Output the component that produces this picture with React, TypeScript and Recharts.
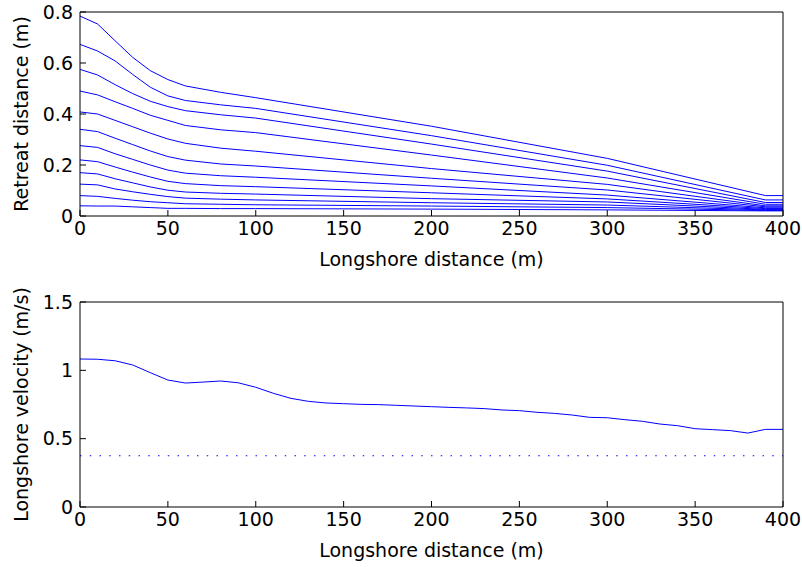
import { LineChart, Line, XAxis, YAxis, ReferenceLine } from 'recharts';

// longshore positions (m) where the retreat profiles were read
const retreatX = [0, 10, 20, 30, 40, 50, 60, 80, 100, 200, 300, 390, 400];

// retreat distance (m), one profile per time step, largest first
const retreat1 = [0.784, 0.753, 0.687, 0.622, 0.57, 0.535, 0.51, 0.485, 0.464, 0.352, 0.226, 0.08, 0.08];
const retreat2 = [0.673, 0.647, 0.608, 0.555, 0.505, 0.471, 0.453, 0.436, 0.422, 0.315, 0.199, 0.063, 0.063];
const retreat3 = [0.575, 0.553, 0.515, 0.48, 0.45, 0.429, 0.413, 0.397, 0.384, 0.282, 0.176, 0.053, 0.053];
const retreat4 = [0.49, 0.475, 0.448, 0.422, 0.395, 0.375, 0.355, 0.338, 0.327, 0.239, 0.149, 0.046, 0.046];
const retreat5 = [0.408, 0.4, 0.375, 0.35, 0.325, 0.302, 0.285, 0.266, 0.254, 0.186, 0.124, 0.04, 0.04];
const retreat6 = [0.34, 0.331, 0.305, 0.28, 0.255, 0.233, 0.219, 0.204, 0.196, 0.148, 0.102, 0.036, 0.036];
const retreat7 = [0.276, 0.269, 0.244, 0.222, 0.2, 0.18, 0.168, 0.158, 0.152, 0.118, 0.082, 0.032, 0.032];
const retreat8 = [0.22, 0.213, 0.192, 0.172, 0.153, 0.136, 0.127, 0.119, 0.115, 0.091, 0.067, 0.029, 0.029];
const retreat9 = [0.17, 0.165, 0.146, 0.13, 0.114, 0.101, 0.094, 0.089, 0.086, 0.068, 0.055, 0.026, 0.026];
const retreat10 = [0.125, 0.122, 0.106, 0.095, 0.085, 0.076, 0.07, 0.066, 0.063, 0.052, 0.043, 0.024, 0.024];
const retreat11 = [0.08, 0.077, 0.069, 0.062, 0.056, 0.052, 0.048, 0.046, 0.044, 0.039, 0.033, 0.022, 0.022];
const retreat12 = [0.04, 0.039, 0.039, 0.036, 0.033, 0.03, 0.03, 0.029, 0.029, 0.027, 0.024, 0.02, 0.02];

const retreatProfiles = [
  retreat1, retreat2, retreat3, retreat4, retreat5, retreat6,
  retreat7, retreat8, retreat9, retreat10, retreat11, retreat12,
];

// longshore velocity (m/s) every 10 m
const velocityX = [
  0, 10, 20, 30, 40, 50, 60, 70, 80, 90, 100, 110, 120, 130, 140, 150, 160, 170, 180, 190, 200,
  210, 220, 230, 240, 250, 260, 270, 280, 290, 300, 310, 320, 330, 340, 350, 360, 370, 380, 390, 400,
];
const velocity = [
  1.083, 1.081, 1.07, 1.039, 0.983, 0.929, 0.907, 0.914, 0.922, 0.909, 0.876, 0.832, 0.795, 0.773,
  0.761, 0.756, 0.751, 0.749, 0.744, 0.739, 0.734, 0.729, 0.725, 0.72, 0.71, 0.705, 0.693, 0.685,
  0.673, 0.656, 0.653, 0.639, 0.627, 0.607, 0.595, 0.573, 0.566, 0.559, 0.541, 0.568, 0.568,
];
const velocityThreshold = 0.375;

const distanceTicks = [0, 50, 100, 150, 200, 250, 300, 350, 400];
const retreatTicks = [0, 0.2, 0.4, 0.6, 0.8];
const velocityTicks = [0, 0.5, 1, 1.5];

const retreatData = retreatX.map((x, i) => {
  const row: Record<string, number> = { x };
  retreatProfiles.forEach((p, k) => {
    row['r' + k] = p[i];
  });
  return row;
});

const velocityData = velocityX.map((x, i) => ({ x, v: velocity[i] }));

const FONT = 'DejaVu Sans';
const BLUE = '#0000ff';
const tickStyle = { fill: '#000', fontSize: 19, fontFamily: FONT };
const labelStyle = { fill: '#000', fontSize: 19, fontFamily: FONT, textAnchor: 'middle' as const };

type PanelProps = {
  data: Record<string, number>[];
  keys: string[];
  height: number;
  top: number;
  bottom: number;
  yDomain: [number, number];
  yTicks: number[];
  yLabel: string;
  threshold?: number;
};

function Panel({ data, keys, height, top, bottom, yDomain, yTicks, yLabel, threshold }: PanelProps) {
  return (
    <LineChart width={802} height={height} data={data} margin={{ top, right: 18, bottom, left: 0 }}>
      <XAxis
        dataKey="x"
        type="number"
        domain={[0, 400]}
        ticks={distanceTicks}
        tickSize={-6}
        tickMargin={12}
        stroke="#000"
        tick={tickStyle}
        height={54}
        label={{ value: 'Longshore distance (m)', position: 'insideBottom', offset: 4, style: labelStyle }}
      />
      <XAxis
        xAxisId="top"
        orientation="top"
        dataKey="x"
        type="number"
        domain={[0, 400]}
        ticks={distanceTicks}
        tickSize={-6}
        tick={false}
        height={1}
        stroke="#000"
      />
      <YAxis
        type="number"
        domain={yDomain}
        ticks={yTicks}
        tickSize={-6}
        tickMargin={13}
        width={80}
        stroke="#000"
        tick={tickStyle}
        label={{ value: yLabel, angle: -90, position: 'insideLeft', offset: 21, style: labelStyle }}
      />
      <YAxis
        yAxisId="right"
        orientation="right"
        type="number"
        domain={yDomain}
        ticks={yTicks}
        tickSize={-6}
        tick={false}
        width={1}
        stroke="#000"
      />
      {threshold !== undefined && (
        <ReferenceLine y={threshold} stroke={BLUE} strokeWidth={1} strokeDasharray="1.5 8.25" />
      )}
      {keys.map((k) => (
        <Line
          key={k}
          dataKey={k}
          type="linear"
          stroke={BLUE}
          strokeWidth={1}
          dot={false}
          isAnimationActive={false}
        />
      ))}
    </LineChart>
  );
}

export default function App() {
  return (
    <div style={{ position: 'absolute', left: 0, top: 0, width: 802, height: 567, background: '#fff' }}>
      <Panel
        data={retreatData}
        keys={retreatProfiles.map((_, k) => 'r' + k)}
        height={280}
        top={11}
        bottom={10}
        yDomain={[0, 0.8]}
        yTicks={retreatTicks}
        yLabel="Retreat distance (m)"
      />
      <Panel
        data={velocityData}
        keys={['v']}
        height={287}
        top={21}
        bottom={6}
        yDomain={[0, 1.5]}
        yTicks={velocityTicks}
        yLabel="Longshore velocity (m/s)"
        threshold={velocityThreshold}
      />
    </div>
  );
}
